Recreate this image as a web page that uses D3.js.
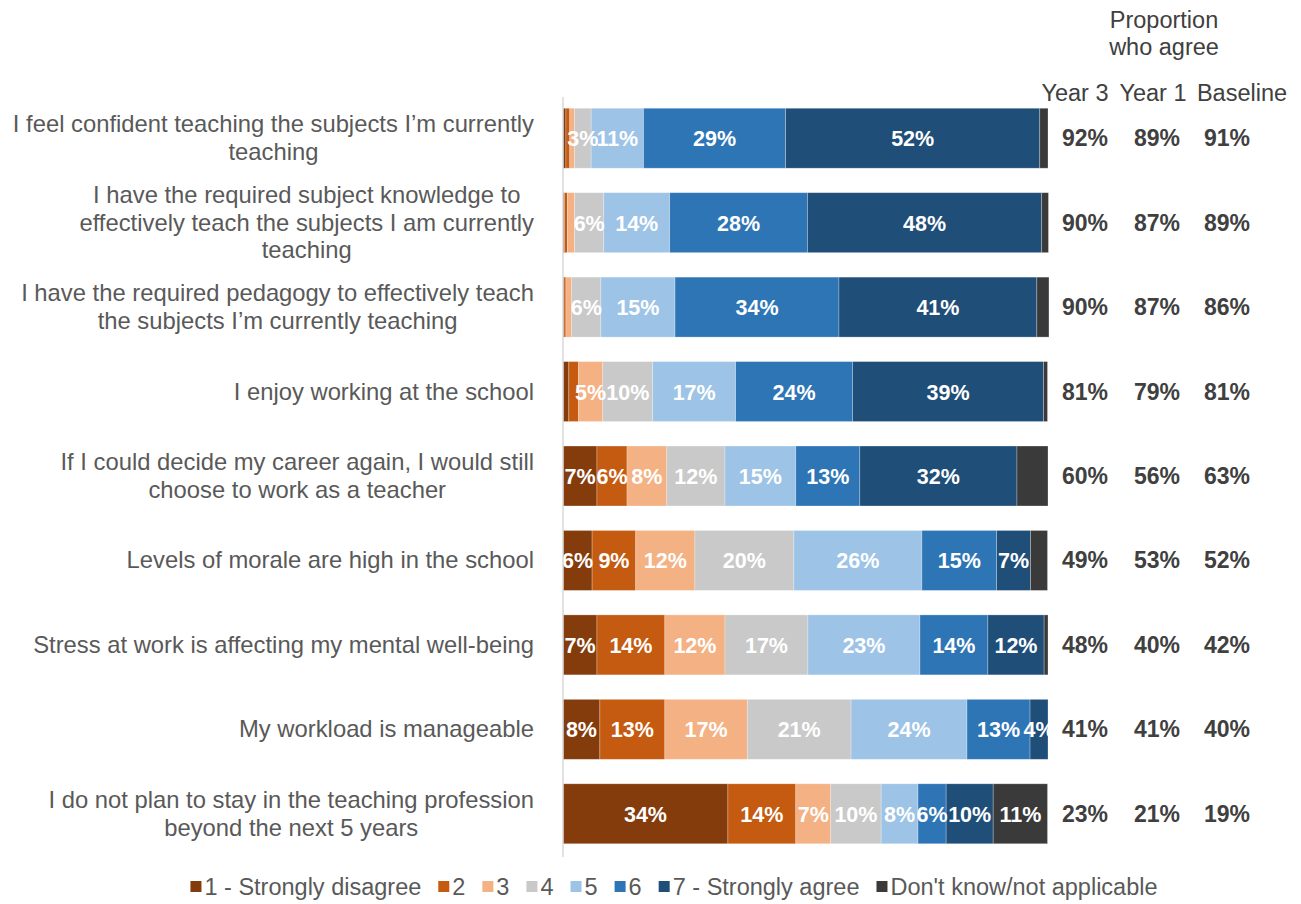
<!DOCTYPE html>
<html>
<head>
<meta charset="utf-8">
<script src="https://cdn.jsdelivr.net/npm/d3@7"></script>
<style>
  body { margin: 0; background: #fff; }
  text { font-family: "Liberation Sans", Arial, sans-serif; }
</style>
</head>
<body>
<script>
// chart data
var statements = [
  ["I feel confident teaching the subjects I\u2019m currently", "teaching"],
  ["I have the required subject knowledge to", "effectively teach the subjects I am currently", "teaching"],
  ["I have the required pedagogy to effectively teach", "the subjects I\u2019m currently teaching"],
  ["I enjoy working at the school"],
  ["If I could decide my career again, I would still", "choose to work as a teacher"],
  ["Levels of morale are high in the school"],
  ["Stress at work is affecting my mental well-being"],
  ["My workload is manageable"],
  ["I do not plan to stay in the teaching profession", "beyond the next 5 years"]
];
var seriesNames = ["1 - Strongly disagree", "2", "3", "4", "5", "6", "7 - Strongly agree", "Don't know/not applicable"];
var colors = ["#843c0c", "#c55a11", "#f4b183", "#c9c9c9", "#9dc3e6", "#2e75b6", "#1f4e79", "#3a3a3a"];

var score1 = [0.6, 0.3, 0.2, 1.2, 7, 6, 7, 7.6, 34];
var score2 = [0.8, 0.6, 0.4, 2, 6.2, 9, 14, 13.4, 14];
var score3 = [1.0, 1.5, 1.2, 5, 8.2, 12.2, 12.4, 17, 7.2];
var score4 = [3.4, 6, 6, 10.3, 12, 20.4, 17.1, 21.4, 10.4];
var score5 = [10.8, 13.6, 15.3, 17.1, 14.6, 26.4, 23.1, 23.9, 7.6];
var score6 = [29.3, 28.4, 33.8, 24.1, 13.2, 15.4, 14, 13, 5.8];
var score7 = [52.4, 48.3, 40.8, 39.4, 32.4, 7, 11.6, 3.7, 9.7];
var dontKnow = [1.7, 1.4, 2.5, 0.8, 6.4, 3.5, 0.8, 0, 11.2];

var yearLabels = ["Year 3", "Year 1", "Baseline"];
var year3 = [92, 90, 90, 81, 60, 49, 48, 41, 23];
var year1 = [89, 87, 87, 79, 56, 53, 40, 41, 21];
var baseline = [91, 89, 86, 81, 63, 52, 42, 40, 19];

var w = 1301;
var h = 904;

var svg = d3.select("body").append("svg")
            .attr("width", w)
            .attr("height", h);

// build rows for stacking
var seriesVals = [score1, score2, score3, score4, score5, score6, score7, dontKnow];
var rows = statements.map(function(s, i) {
  var r = {idx: i};
  seriesNames.forEach(function(k, j) { r[k] = seriesVals[j][i]; });
  return r;
});
var stacked = d3.stack().keys(seriesNames)(rows);

var x = d3.scaleLinear().domain([0, 100]).range([563, 1048]);
var y = d3.scaleBand().domain(d3.range(statements.length))
          .range([96, 856]).paddingInner(0.29).paddingOuter(0.145);

// bars
svg.selectAll("g.series")
   .data(stacked)
   .enter()
   .append("g")
   .attr("class", "series")
   .attr("fill", function(d, i) { return colors[i]; })
   .selectAll("rect")
   .data(function(d) { return d; })
   .enter()
   .append("rect")
   .attr("x", function(d) { return x(d[0]); })
   .attr("y", function(d) { return y(d.data.idx); })
   .attr("width", function(d) { return x(d[1]) - x(d[0]); })
   .attr("height", y.bandwidth())
   .attr("stroke", "#ffffff")
   .attr("stroke-opacity", 0.35)
   .attr("stroke-width", 0.75);

// value labels inside bars (drawn on top of all bars)
var labelLayer = svg.append("g");
stacked.forEach(function(s, si) {
  labelLayer.selectAll("text.s" + si)
    .data(s.filter(function(d) {
      var v = d[1] - d[0];
      return si < 7 ? v >= 3 : v >= 10;
    }))
    .enter()
    .append("text")
    .attr("class", "s" + si)
    .attr("x", function(d) { return (x(d[0]) + x(d[1])) / 2; })
    .attr("y", function(d) { return y(d.data.idx) + y.bandwidth() / 2 + 8; })
    .attr("text-anchor", "middle")
    .attr("fill", "#ffffff")
    .style("font-weight", "bold")
    .style("font-size", "21.5px")
    .text(function(d) { return Math.round(d[1] - d[0]) + "%"; });
});

// vertical axis line
svg.append("line")
   .attr("x1", x(0)).attr("x2", x(0))
   .attr("y1", 97).attr("y2", 857)
   .attr("stroke", "#d9d9d9")
   .attr("stroke-width", 1.5);

// category labels: block right-aligned, lines centred inside the block
var lineH = 27.5;
statements.forEach(function(lines, i) {
  var t = svg.append("text")
           .attr("fill", "#595959")
           .style("font-size", "23.8px")
           .attr("text-anchor", "middle");
  var cy = y(i) + y.bandwidth() / 2;
  var top = cy - (lines.length - 1) * lineH / 2 + 8;
  lines.forEach(function(l, k) {
    t.append("tspan").attr("y", top + k * lineH).text(l);
  });
  var maxW = 0;
  t.selectAll("tspan").each(function() { maxW = Math.max(maxW, this.getComputedTextLength()); });
  t.selectAll("tspan").attr("x", 534 - maxW / 2);
});

// proportion who agree
svg.append("text")
   .attr("x", 1164).attr("y", 28)
   .attr("text-anchor", "middle")
   .attr("fill", "#404040")
   .style("font-size", "23.5px")
   .text("Proportion");
svg.append("text")
   .attr("x", 1164).attr("y", 55)
   .attr("text-anchor", "middle")
   .attr("fill", "#404040")
   .style("font-size", "23.5px")
   .text("who agree");

var headX = [1075, 1153, 1242];
var colX = [1085, 1157, 1227];
svg.selectAll("text.head")
   .data(yearLabels)
   .enter()
   .append("text")
   .attr("class", "head")
   .attr("x", function(d, i) { return headX[i]; })
   .attr("y", 101)
   .attr("text-anchor", "middle")
   .attr("fill", "#404040")
   .style("font-size", "23.5px")
   .text(function(d) { return d; });

[year3, year1, baseline].forEach(function(col, ci) {
  svg.selectAll("text.col" + ci)
     .data(col)
     .enter()
     .append("text")
     .attr("class", "col" + ci)
     .attr("x", colX[ci])
     .attr("y", function(d, i) { return y(i) + y.bandwidth() / 2 + 8; })
     .attr("text-anchor", "middle")
     .attr("fill", "#404040")
     .style("font-weight", "bold")
     .style("font-size", "23px")
     .text(function(d) { return d + "%"; });
});

// legend
var legend = svg.append("g");
var lx = 0;
seriesNames.forEach(function(name, i) {
  var item = legend.append("g").attr("transform", "translate(" + lx + ",0)");
  item.append("rect")
      .attr("x", 0).attr("y", -14)
      .attr("width", 11).attr("height", 11)
      .attr("fill", colors[i]);
  var t = item.append("text")
      .attr("x", 14).attr("y", 0)
      .attr("fill", "#595959")
      .style("font-size", "23.5px")
      .text(name);
  lx += 14 + t.node().getComputedTextLength() + 17;
});
legend.attr("transform", "translate(" + (674 - (lx - 17) / 2) + ",895)");
</script>
</body>
</html>
